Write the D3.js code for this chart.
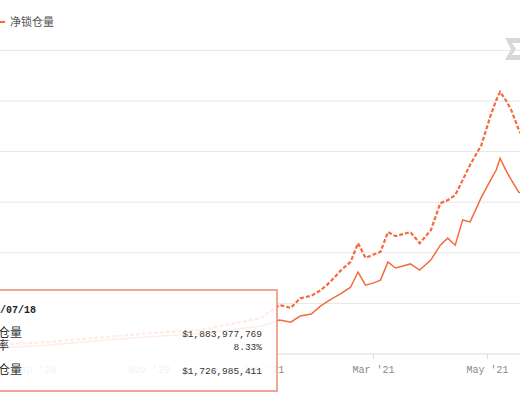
<!DOCTYPE html>
<html><head><meta charset="utf-8">
<script src="https://cdn.jsdelivr.net/npm/d3@7"></script>
<style>body{margin:0;background:#fff;overflow:hidden}</style>
</head><body>
<svg id="chart" width="520" height="400"></svg>
<script>
// dates shared by both series
var dates = ["2020-07-18","2020-08-13","2020-09-09","2020-10-05","2020-11-01","2020-11-28","2020-12-31",
  "2021-01-10","2021-01-16","2021-01-21","2021-01-27","2021-02-01","2021-02-06","2021-02-12","2021-02-17",
  "2021-02-21","2021-02-25","2021-03-01","2021-03-05","2021-03-09","2021-03-13","2021-03-17","2021-03-21",
  "2021-03-26","2021-04-01","2021-04-06","2021-04-10","2021-04-14","2021-04-18","2021-04-22","2021-04-28",
  "2021-05-03","2021-05-06","2021-05-08","2021-05-11","2021-05-14","2021-05-18","2021-05-21"];
// billions USD
var totalLocked = [0.08,0.18,0.24,0.32,0.41,0.47,0.71,0.97,0.91,1.1,1.15,1.26,1.42,1.66,1.82,2.19,1.9,1.96,
  2.02,2.41,2.33,2.37,2.41,2.19,2.45,2.98,3.04,3.14,3.44,3.74,4.13,4.72,5.02,5.18,5.02,4.82,4.43,4.23];
var netLocked = [0.06,0.12,0.18,0.26,0.34,0.4,0.55,0.67,0.63,0.75,0.79,0.95,1.07,1.2,1.32,1.62,1.36,1.4,
  1.46,1.82,1.7,1.74,1.78,1.66,1.86,2.15,2.29,2.15,2.65,2.61,3.1,3.44,3.64,3.87,3.64,3.44,3.2,3.14];
var yTicks = [1,2,3,4,5,6];
var xTicks = ["2020-09-01","2020-11-01","2021-01-01","2021-03-01","2021-05-01"];
var tipDate = "2020/07/18";
var tipRows = [["总锁仓量","$1,883,977,769"],["增长率","8.33%"],["净锁仓量","$1,726,985,411"]];

var parse = d3.timeParse("%Y-%m-%d");
var svg = d3.select("#chart");
var color = "#f56b3c";
var mono = "Liberation Mono";
var x = d3.scaleTime().domain([parse("2021-03-01"), parse("2021-05-01")]).range([373, 487]);
var y = d3.scaleLinear().domain([0, 1]).range([354, 303.4]);

svg.selectAll(".grid").data(yTicks).join("line")
  .attr("x1", 0).attr("x2", 520).attr("y1", d => y(d)).attr("y2", d => y(d))
  .attr("stroke", "#e6e6e6");

var xAxis = svg.append("g").attr("transform", "translate(0,354)")
  .call(d3.axisBottom(x).tickValues(xTicks.map(parse)).tickSize(5)
    .tickFormat(d => d3.timeFormat("%b '%y")(d)));
xAxis.select(".domain").remove();
svg.append("line").attr("x1", 0).attr("x2", 520).attr("y1", 354).attr("y2", 354).attr("stroke", "#dcdcdc");
xAxis.selectAll("line").attr("stroke", "#dcdcdc");
xAxis.selectAll("text").attr("fill", "#888").attr("font-family", mono).attr("font-size", 10).attr("dy", "1.1em");

var line = d3.line().x((d, i) => x(parse(dates[i]))).y(d => y(d));
svg.append("path").attr("d", line(totalLocked)).attr("fill", "none").attr("stroke", color)
  .attr("stroke-width", 2.2).attr("stroke-dasharray", "4,2");
svg.append("path").attr("d", line(netLocked)).attr("fill", "none").attr("stroke", color).attr("stroke-width", 1.5);

// legend
svg.append("line").attr("x1", 0).attr("x2", 5).attr("y1", 22).attr("y2", 22).attr("stroke", color).attr("stroke-width", 2);
svg.append("text").attr("x", 10).attr("y", 26).text("净锁仓量").attr("font-size", 11)
  .attr("fill", "#555").attr("font-family", "Noto Sans CJK SC");

// watermark
svg.append("path").attr("d", "M505,38 L520,38 L520,43 L512,43 L516,49 L512,55 L520,55 L520,60 L505,60 L511,49 Z")
  .attr("fill", "#d8d8d8");

// tooltip
var tip = svg.append("g");
tip.append("rect").attr("x", -20).attr("y", 290).attr("width", 297).attr("height", 101)
  .attr("fill", "rgba(255,255,255,0.88)").attr("stroke", "#ea8a72").attr("stroke-width", 1.5);
tip.append("text").attr("x", -24).attr("y", 313).text(tipDate).attr("font-weight", "bold")
  .attr("font-family", mono).attr("font-size", 10).attr("fill", "#222");
var rowY = [337, 350, 374];
var shift = [26, 12, 26];
tipRows.forEach(function (r, i) {
  tip.append("text").attr("x", shift[i] - r[0].length * 13).attr("y", rowY[i]).text(r[0])
    .attr("font-family", "Noto Sans CJK SC").attr("font-size", 12).attr("fill", "#333");
  tip.append("text").attr("x", 262).attr("y", rowY[i]).attr("text-anchor", "end").text(r[1])
    .attr("font-family", mono).attr("font-size", 9.5).attr("fill", "#333");
});
</script>
</body></html>
